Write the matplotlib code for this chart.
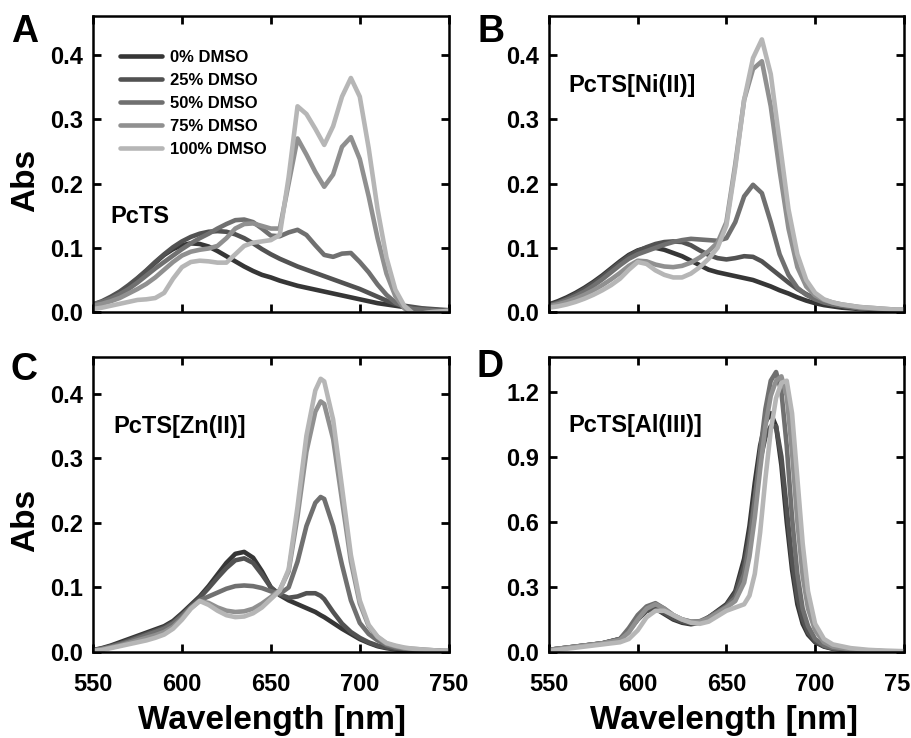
import matplotlib
matplotlib.use('Agg')
import matplotlib.pyplot as plt
from matplotlib.ticker import FormatStrFormatter

plt.rcParams['font.family'] = ['Liberation Sans', 'DejaVu Sans']
plt.rcParams['font.weight'] = 'bold'

# legend labels and grey levels (0% darkest -> 100% lightest)
labels = ['0% DMSO', '25% DMSO', '50% DMSO', '75% DMSO', '100% DMSO']
colors = ['#363636', '#525252', '#707070', '#909090', '#b6b6b6']

# ---- panel A: PcTS ----
wl_a = list(range(550, 751, 5))
a_0 = [0.010, 0.015, 0.022, 0.030, 0.040, 0.052, 0.064, 0.077, 0.089, 0.098,
       0.104, 0.107, 0.106, 0.102, 0.095, 0.087, 0.079, 0.071, 0.064, 0.058,
       0.054, 0.049, 0.045, 0.041, 0.038, 0.035, 0.032, 0.029, 0.026, 0.023,
       0.020, 0.017, 0.014, 0.012, 0.010, 0.008, 0.006, 0.005, 0.004, 0.003, 0.003]
a_25 = [0.012, 0.017, 0.024, 0.032, 0.042, 0.053, 0.065, 0.078, 0.090, 0.101,
        0.110, 0.117, 0.122, 0.125, 0.126, 0.125, 0.121, 0.115, 0.107, 0.098,
        0.090, 0.083, 0.077, 0.071, 0.066, 0.061, 0.056, 0.051, 0.046, 0.041,
        0.036, 0.030, 0.024, 0.018, 0.013, 0.010, 0.008, 0.006, 0.005, 0.004, 0.003]
a_50 = [0.012, 0.016, 0.021, 0.028, 0.036, 0.046, 0.057, 0.068, 0.078, 0.088,
        0.098, 0.107, 0.115, 0.122, 0.130, 0.137, 0.143, 0.144, 0.140, 0.130,
        0.119, 0.118, 0.124, 0.128, 0.120, 0.104, 0.089, 0.086, 0.091, 0.092,
        0.078, 0.062, 0.043, 0.027, 0.015, 0.008, 0.005, 0.004, 0.003, 0.002, 0.002]
a_75 = [0.010, 0.013, 0.017, 0.022, 0.029, 0.036, 0.044, 0.054, 0.066, 0.078,
        0.088, 0.094, 0.097, 0.099, 0.103, 0.115, 0.130, 0.137, 0.138, 0.134,
        0.130, 0.130, 0.200, 0.270, 0.245, 0.218, 0.195, 0.214, 0.257, 0.272,
        0.238, 0.180, 0.115, 0.060, 0.025, 0.006, -0.003, -0.002, 0.000, 0.001, 0.002]
a_100 = [0.005, 0.007, 0.010, 0.013, 0.016, 0.019, 0.020, 0.022, 0.030, 0.052,
         0.070, 0.078, 0.080, 0.079, 0.077, 0.077, 0.090, 0.103, 0.108, 0.110,
         0.112, 0.120, 0.210, 0.320, 0.308, 0.285, 0.260, 0.289, 0.335, 0.364,
         0.335, 0.255, 0.160, 0.085, 0.035, 0.010, -0.002, -0.002, 0.000, 0.001, 0.002]

# ---- panel B: PcTS[Ni(II)] ----
wl_b = list(range(550, 751, 5))
b_0 = [0.012, 0.017, 0.023, 0.030, 0.038, 0.047, 0.057, 0.068, 0.079, 0.089,
       0.096, 0.100, 0.100, 0.097, 0.092, 0.087, 0.080, 0.073, 0.066, 0.062,
       0.059, 0.056, 0.053, 0.050, 0.045, 0.040, 0.034, 0.029, 0.023, 0.018,
       0.014, 0.011, 0.009, 0.007, 0.006, 0.005, 0.004, 0.003, 0.003, 0.002, 0.002]
b_25 = [0.011, 0.015, 0.021, 0.028, 0.036, 0.045, 0.055, 0.066, 0.077, 0.087,
        0.095, 0.101, 0.106, 0.109, 0.110, 0.109, 0.104, 0.096, 0.089, 0.084,
        0.082, 0.084, 0.087, 0.086, 0.079, 0.068, 0.057, 0.046, 0.036, 0.028,
        0.021, 0.016, 0.012, 0.010, 0.008, 0.006, 0.005, 0.004, 0.003, 0.003, 0.002]
b_50 = [0.010, 0.014, 0.019, 0.025, 0.032, 0.041, 0.051, 0.062, 0.073, 0.083,
        0.090, 0.095, 0.100, 0.105, 0.109, 0.112, 0.114, 0.113, 0.112, 0.111,
        0.115, 0.140, 0.180, 0.198, 0.185, 0.140, 0.090, 0.058, 0.038, 0.027,
        0.020, 0.015, 0.012, 0.010, 0.008, 0.006, 0.005, 0.004, 0.003, 0.003, 0.002]
b_75 = [0.009, 0.012, 0.016, 0.021, 0.027, 0.034, 0.042, 0.051, 0.061, 0.072,
        0.080, 0.079, 0.074, 0.071, 0.070, 0.072, 0.077, 0.085, 0.095, 0.108,
        0.140, 0.230, 0.330, 0.378, 0.390, 0.320, 0.220, 0.130, 0.070, 0.040,
        0.026, 0.019, 0.015, 0.012, 0.010, 0.008, 0.007, 0.006, 0.005, 0.004, 0.004]
b_100 = [0.007, 0.009, 0.012, 0.016, 0.021, 0.027, 0.034, 0.042, 0.052, 0.066,
         0.078, 0.075, 0.065, 0.058, 0.054, 0.054, 0.060, 0.070, 0.083, 0.100,
         0.135, 0.225, 0.330, 0.395, 0.424, 0.370, 0.265, 0.160, 0.090, 0.050,
         0.030, 0.020, 0.015, 0.012, 0.010, 0.008, 0.007, 0.006, 0.005, 0.004, 0.004]

# ---- panel C: PcTS[Zn(II)] ----
wl_c = list(range(550, 676, 5)) + [678] + list(range(680, 751, 5))
c_0 = [0.003, 0.006, 0.010, 0.015, 0.020, 0.025, 0.030, 0.035, 0.040, 0.048,
       0.060, 0.073, 0.086, 0.102, 0.120, 0.138, 0.152, 0.155, 0.146, 0.125,
       0.100, 0.088, 0.080, 0.074, 0.068, 0.062, 0.057, 0.054, 0.045, 0.036,
       0.028, 0.020, 0.014, 0.009, 0.006, 0.004, 0.003, 0.002, 0.002, 0.001,
       0.001, 0.001]
c_25 = [0.003, 0.005, 0.009, 0.013, 0.018, 0.023, 0.028, 0.033, 0.038, 0.046,
        0.058, 0.071, 0.084, 0.099, 0.115, 0.130, 0.142, 0.145, 0.138, 0.120,
        0.100, 0.089, 0.084, 0.086, 0.091, 0.091, 0.087, 0.082, 0.062, 0.044,
        0.031, 0.022, 0.015, 0.010, 0.007, 0.005, 0.004, 0.003, 0.002, 0.002,
        0.001, 0.001]
c_50 = [0.003, 0.005, 0.008, 0.012, 0.016, 0.021, 0.026, 0.031, 0.036, 0.044,
        0.056, 0.069, 0.080, 0.086, 0.092, 0.098, 0.102, 0.103, 0.102, 0.099,
        0.094, 0.090, 0.100, 0.140, 0.195, 0.231, 0.240, 0.237, 0.195, 0.135,
        0.080, 0.045, 0.028, 0.018, 0.011, 0.007, 0.005, 0.004, 0.003, 0.002,
        0.002, 0.001]
c_75 = [0.002, 0.004, 0.007, 0.010, 0.014, 0.018, 0.022, 0.026, 0.031, 0.039,
        0.052, 0.068, 0.079, 0.076, 0.069, 0.064, 0.062, 0.063, 0.067, 0.075,
        0.085, 0.096, 0.125, 0.210, 0.310, 0.372, 0.388, 0.384, 0.330, 0.235,
        0.140, 0.075, 0.040, 0.023, 0.013, 0.009, 0.006, 0.005, 0.004, 0.003,
        0.002, 0.002]
c_100 = [0.002, 0.003, 0.006, 0.009, 0.012, 0.015, 0.018, 0.022, 0.027, 0.036,
         0.050, 0.067, 0.079, 0.073, 0.064, 0.057, 0.054, 0.055, 0.060, 0.069,
         0.082, 0.095, 0.128, 0.225, 0.335, 0.405, 0.423, 0.419, 0.360, 0.255,
         0.150, 0.080, 0.042, 0.024, 0.014, 0.010, 0.007, 0.005, 0.004, 0.003,
         0.002, 0.002]

# ---- panel D: PcTS[Al(III)] ----
wl_d = [550, 560, 570, 580, 590, 595, 600, 605, 610, 615, 620, 625, 630, 635,
        640, 645, 650, 655, 660, 663, 666, 669, 672, 675, 678, 681, 684, 687,
        690, 693, 696, 700, 705, 710, 720, 730, 740, 750]
d_0 = [0.010, 0.020, 0.030, 0.040, 0.060, 0.100, 0.150, 0.190, 0.200, 0.175,
       0.150, 0.135, 0.128, 0.135, 0.160, 0.190, 0.220, 0.280, 0.430, 0.580,
       0.780, 0.950, 1.060, 1.100, 1.040, 0.860, 0.600, 0.380, 0.220, 0.130,
       0.080, 0.045, 0.025, 0.015, 0.008, 0.005, 0.003, 0.002]
d_25 = [0.010, 0.020, 0.030, 0.040, 0.060, 0.100, 0.150, 0.190, 0.200, 0.180,
        0.155, 0.140, 0.132, 0.138, 0.160, 0.185, 0.215, 0.270, 0.400, 0.540,
        0.720, 0.880, 0.990, 1.040, 1.040, 0.900, 0.660, 0.420, 0.250, 0.150,
        0.090, 0.050, 0.027, 0.016, 0.008, 0.005, 0.003, 0.002]
d_50 = [0.010, 0.020, 0.030, 0.040, 0.060, 0.110, 0.170, 0.210, 0.225, 0.200,
        0.170, 0.150, 0.140, 0.142, 0.160, 0.185, 0.210, 0.250, 0.360, 0.500,
        0.700, 0.920, 1.120, 1.250, 1.290, 1.200, 0.950, 0.620, 0.360, 0.200,
        0.120, 0.060, 0.030, 0.018, 0.009, 0.005, 0.003, 0.002]
d_75 = [0.010, 0.020, 0.030, 0.040, 0.055, 0.090, 0.150, 0.200, 0.220, 0.200,
        0.170, 0.150, 0.140, 0.140, 0.155, 0.180, 0.205, 0.235, 0.320, 0.440,
        0.620, 0.840, 1.040, 1.180, 1.250, 1.270, 1.180, 0.920, 0.600, 0.350,
        0.200, 0.100, 0.045, 0.025, 0.012, 0.007, 0.004, 0.003]
d_100 = [0.005, 0.015, 0.025, 0.035, 0.045, 0.060, 0.100, 0.160, 0.190, 0.190,
         0.170, 0.150, 0.135, 0.130, 0.140, 0.165, 0.190, 0.205, 0.220, 0.260,
         0.360, 0.550, 0.800, 1.020, 1.170, 1.240, 1.250, 1.100, 0.800, 0.500,
         0.280, 0.130, 0.060, 0.035, 0.018, 0.010, 0.006, 0.004]

x_ticks = [550, 600, 650, 700, 750]

fig = plt.figure(figsize=(9.12, 7.38), dpi=100)

panels = [
    # axes rect, wavelengths, series, y top, y ticks, compound, label pos, x labels
    ([0.102, 0.577, 0.390, 0.401], wl_a, [a_0, a_25, a_50, a_75, a_100],
     0.46, [0.0, 0.1, 0.2, 0.3, 0.4], 'PcTS', (0.048, 0.324), False),
    ([0.602, 0.577, 0.389, 0.401], wl_b, [b_0, b_25, b_50, b_75, b_100],
     0.46, [0.0, 0.1, 0.2, 0.3, 0.4], 'PcTS[Ni(II)]', (0.054, 0.767), False),
    ([0.102, 0.1165, 0.390, 0.400], wl_c, [c_0, c_25, c_50, c_75, c_100],
     0.457, [0.0, 0.1, 0.2, 0.3, 0.4], 'PcTS[Zn(II)]', (0.056, 0.763), True),
    ([0.602, 0.1165, 0.389, 0.400], wl_d, [d_0, d_25, d_50, d_75, d_100],
     1.36, [0.0, 0.3, 0.6, 0.9, 1.2], 'PcTS[Al(III)]', (0.054, 0.769), True),
]

axes = []
for rect, wl, series, ytop, yticks, name, name_xy, bottom in panels:
    ax = fig.add_axes(rect)
    for ys, col, lab in zip(series, colors, labels):
        ax.plot(wl, ys, color=col, lw=3.3, label=lab,
                solid_joinstyle='round', solid_capstyle='round')
    ax.set_xlim(550, 750)
    ax.set_ylim(0, ytop)
    ax.set_xticks(x_ticks)
    ax.set_yticks(yticks)
    ax.yaxis.set_major_formatter(FormatStrFormatter('%.1f'))
    ax.tick_params(direction='in', length=6, width=2, top=True, right=True,
                   labelsize=17)
    ax.tick_params(axis='y', pad=7)
    ax.tick_params(axis='x', pad=15, labelbottom=bottom)
    for sp in ax.spines.values():
        sp.set_linewidth(1.8)
    ax.text(name_xy[0], name_xy[1], name, transform=ax.transAxes,
            fontsize=17, fontweight='bold', va='center', ha='left')
    axes.append(ax)

axes[0].legend(loc='upper left', bbox_to_anchor=(0.076, 0.885), frameon=False,
               fontsize=12, handlelength=2.5, handletextpad=0.5,
               labelspacing=0.48, borderpad=0, borderaxespad=0)

# panel letters
for letter, x, y in [('A', 0.012, 0.957), ('B', 0.524, 0.957),
                     ('C', 0.012, 0.499), ('D', 0.523, 0.503)]:
    fig.text(x, y, letter, fontsize=27, fontweight='bold', ha='left', va='center')

# axis titles
fig.text(26 / 912, 1 - 180 / 738, 'Abs', rotation=90, fontsize=24,
         fontweight='bold', ha='center', va='center')
fig.text(26 / 912, 1 - 520 / 738, 'Abs', rotation=90, fontsize=24,
         fontweight='bold', ha='center', va='center')
fig.text(272 / 912, 1 - 720 / 738, 'Wavelength [nm]', fontsize=24,
         fontweight='bold', ha='center', va='center')
fig.text(724 / 912, 1 - 720 / 738, 'Wavelength [nm]', fontsize=24,
         fontweight='bold', ha='center', va='center')

fig.savefig('out.png', dpi=100)
